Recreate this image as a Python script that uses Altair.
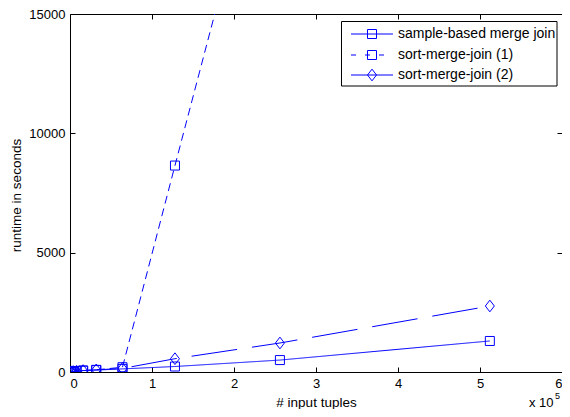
import altair as alt
import pandas as pd

# ---- data ----
x_tuples = [1000, 2000, 4000, 8000, 16000, 32000, 64000, 128000, 256000, 512000]
sample_based = [10, 15, 25, 40, 60, 80, 130, 230, 500, 1300]
smj1 = [5, 10, 20, 35, 60, 90, 200, 8650, 25400]
smj2 = [5, 10, 20, 35, 60, 90, 150, 557, 1215, 2765]
series_names = ["sample-based merge join", "sort-merge-join (1)", "sort-merge-join (2)"]
x_ticks = [0, 100000, 200000, 300000, 400000, 500000, 600000]
y_ticks = [0, 5000, 10000, 15000]

rows = []
for name, vals in zip(series_names, [sample_based, smj1, smj2]):
    for i, v in enumerate(vals):
        rows.append({"series": name, "tuples": x_tuples[i], "runtime": v})
df = pd.DataFrame(rows)

W, H = 492, 358
BLUE = "#0000ff"
FONT = "Liberation Sans"
DIAMOND = "M0,-1.3L1,0L0,1.3L-1,0Z"
dash_range = [[1, 0], [8, 5], [46, 15]]
shape_range = ["square", "square", DIAMOND]

xscale = alt.Scale(domain=[0, 600000], nice=False, zero=False)
yscale = alt.Scale(domain=[0, 15000], nice=False)

common = dict(labelFont=FONT, titleFont=FONT, labelColor="black", titleColor="black",
              titleFontWeight="normal", labelFontSize=13, titleFontSize=13.5, grid=False,
              domain=False)

x_main = alt.Axis(orient="bottom", values=x_ticks, labelExpr="datum.value / 100000",
                  title="# input tuples", tickSize=0, labelPadding=5, titleY=30,
                  titleBaseline="middle", **common)
y_main = alt.Axis(orient="left", values=y_ticks, format="d", title="runtime in seconds",
                  tickSize=0, labelPadding=5, titleX=-54, titleY=181,
                  titleBaseline="middle", titleAlign="center", **common)

tick_common = dict(labels=False, title=None, grid=False, domain=False, tickSize=5,
                   tickColor="black", tickWidth=1)

# invisible layers that only carry the inward-pointing tick marks
ticks_a = alt.Chart(df).mark_point(opacity=0).encode(
    x=alt.X("tuples:Q", scale=xscale,
            axis=alt.Axis(orient="top", offset=-H, values=x_ticks, **tick_common)),
    y=alt.Y("runtime:Q", scale=yscale,
            axis=alt.Axis(orient="right", offset=-W, values=y_ticks, **tick_common)),
)
ticks_b = alt.Chart(df).mark_point(opacity=0).encode(
    x=alt.X("tuples:Q", scale=xscale,
            axis=alt.Axis(orient="bottom", offset=-H, values=x_ticks, **tick_common)),
    y=alt.Y("runtime:Q", scale=yscale,
            axis=alt.Axis(orient="left", offset=-W, values=y_ticks, **tick_common)),
)

lines = alt.Chart(df).mark_line(color=BLUE, strokeWidth=1, clip=True).encode(
    x=alt.X("tuples:Q", scale=xscale, axis=x_main),
    y=alt.Y("runtime:Q", scale=yscale, axis=y_main),
    strokeDash=alt.StrokeDash("series:N", scale=alt.Scale(domain=series_names, range=dash_range),
                              legend=None),
    detail="series:N",
)
points = alt.Chart(df).mark_point(color=BLUE, filled=False, size=81, strokeWidth=1, opacity=1,
                                  clip=True).encode(
    x=alt.X("tuples:Q", scale=xscale, axis=None),
    y=alt.Y("runtime:Q", scale=yscale, axis=None),
    shape=alt.Shape("series:N", scale=alt.Scale(domain=series_names, range=shape_range),
                    legend=None),
)

one = pd.DataFrame({"a": [0]})

# ---- manual MATLAB-style legend ----
legend_layers = [
    alt.Chart(one).mark_rect(fill="white", stroke="black", strokeWidth=1).encode(
        x=alt.value(271.5), x2=alt.value(487), y=alt.value(7.5), y2=alt.value(72))
]
leg_dash = [[1, 0], [5, 9], [1, 0]]
row_y = [20, 41, 61]
for name, dsh, shp, ry in zip(series_names, leg_dash, shape_range, row_y):
    legend_layers.append(
        alt.Chart(one).mark_rule(color=BLUE, strokeWidth=1, strokeDash=dsh).encode(
            x=alt.value(281), x2=alt.value(323), y=alt.value(ry)))
    legend_layers.append(
        alt.Chart(one).mark_point(color=BLUE, filled=False, size=81, strokeWidth=1,
                                  shape=shp, opacity=1).encode(
            x=alt.value(302), y=alt.value(ry)))
    legend_layers.append(
        alt.Chart(one).mark_text(text=name, align="left", baseline="middle", font=FONT,
                                 fontSize=14, color="black").encode(
            x=alt.value(328), y=alt.value(ry)))

exp_layers = [
    alt.Chart(one).mark_text(text="x 10", align="left", baseline="middle", font=FONT,
                             fontSize=13, color="black").encode(
        x=alt.value(459), y=alt.value(389)),
    alt.Chart(one).mark_text(text="5", align="left", baseline="middle", font=FONT,
                             fontSize=9, color="black").encode(
        x=alt.value(485), y=alt.value(382)),
]

chart = alt.layer(ticks_a, ticks_b, lines, points, *legend_layers, *exp_layers).resolve_axis(
    x="independent", y="independent"
).properties(
    width=W, height=H,
    autosize=alt.AutoSizeParams(type="none"),
    padding={"left": 62, "top": 6, "right": 0, "bottom": 37},
).configure_view(stroke="black", strokeWidth=1)

chart.save("out.html", embed_options={"renderer": "svg", "actions": False})
